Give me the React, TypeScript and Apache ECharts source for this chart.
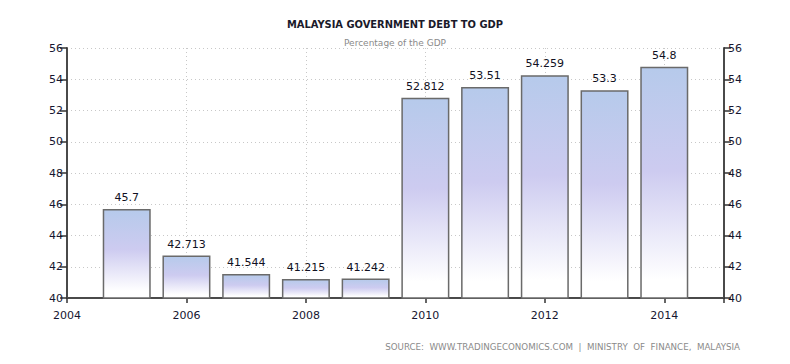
import React, { useEffect, useRef } from "react";
import * as echarts from "echarts";

const years = [2005, 2006, 2007, 2008, 2009, 2010, 2011, 2012, 2013, 2014];
const debtToGdp = [45.7, 42.713, 41.544, 41.215, 41.242, 52.812, 53.51, 54.259, 53.3, 54.8];
const valueLabels = ["45.7", "42.713", "41.544", "41.215", "41.242", "52.812", "53.51", "54.259", "53.3", "54.8"];
const titleText = "MALAYSIA GOVERNMENT DEBT TO GDP";
const subtitleText = "Percentage of the GDP";
const sourceText = "SOURCE:  WWW.TRADINGECONOMICS.COM  |  MINISTRY  OF  FINANCE,  MALAYSIA";

export default function App() {
  const ref = useRef<HTMLDivElement>(null);
  useEffect(() => {
    if (!ref.current) return;
    const chart = echarts.init(ref.current, undefined, { renderer: "svg" });
    const font = "DejaVu Sans";
    const axisLabelStyle = { color: "#161630", fontFamily: font, fontSize: 11 };
    const yAxisBase = {
      type: "value" as const,
      min: 40,
      max: 56,
      interval: 2,
      axisLine: { show: true, lineStyle: { color: "#4a4a4a", width: 2 } },
      axisTick: { show: true, length: 7, lineStyle: { color: "#333", width: 1.5 } },
      axisLabel: { ...axisLabelStyle, margin: 4 },
    };
    chart.setOption({
      animation: false,
      backgroundColor: "#ffffff",
      title: [
        {
          text: titleText,
          left: "center",
          top: 14,
          textStyle: { fontFamily: "DejaVu Sans Condensed, DejaVu Sans", fontSize: 11, fontWeight: "bold", color: "#1a1a2a" },
        },
        {
          text: subtitleText,
          left: "center",
          top: 33,
          textStyle: { fontFamily: font, fontSize: 9, fontWeight: "normal", color: "#8a8a8a" },
        },
      ],
      graphic: [
        {
          type: "text",
          right: 50,
          top: 342,
          style: { text: sourceText, fontFamily: font, fontSize: 8.7, fill: "#8a8a8a" },
        },
      ],
      grid: { left: 67, right: 66, top: 48, bottom: 66 },
      xAxis: {
        type: "value",
        min: 2004,
        max: 2015,
        interval: 2,
        axisLine: { show: true, onZero: false, lineStyle: { color: "#4a4a4a", width: 2 } },
        axisTick: { show: true, length: 5, lineStyle: { color: "#333", width: 1.5 } },
        axisLabel: {
          ...axisLabelStyle,
          margin: 12,
          formatter: (v: number) => (v % 2 === 0 ? String(v) : ""),
        },
        splitLine: { show: true, lineStyle: { color: "#c8c8c8", type: [1, 3], width: 1 } },
      },
      yAxis: [
        {
          ...yAxisBase,
          position: "left",
          splitLine: { show: true, lineStyle: { color: "#c8c8c8", type: [1, 3], width: 1 } },
        },
        {
          ...yAxisBase,
          position: "right",
          splitLine: { show: false },
        },
      ],
      series: [
        {
          type: "bar",
          barWidth: 48,
          data: years.map((y, i) => [y, debtToGdp[i]]),
          itemStyle: {
            borderColor: "#6a6a6a",
            borderWidth: 1.5,
            color: new echarts.graphic.LinearGradient(0, 0, 0, 1, [
              { offset: 0, color: "#b6caeb" },
              { offset: 0.45, color: "#cdcbf0" },
              { offset: 0.92, color: "#ffffff" },
              { offset: 1, color: "#ffffff" },
            ]),
          },
          label: {
            show: true,
            position: "top",
            distance: 6,
            fontFamily: font,
            fontSize: 11,
            color: "#111122",
            formatter: (p: any) => valueLabels[p.dataIndex],
          },
        },
      ],
    });
    return () => chart.dispose();
  }, []);
  return <div ref={ref} style={{ width: 790, height: 364, position: "absolute", left: 0, top: 0 }} />;
}
